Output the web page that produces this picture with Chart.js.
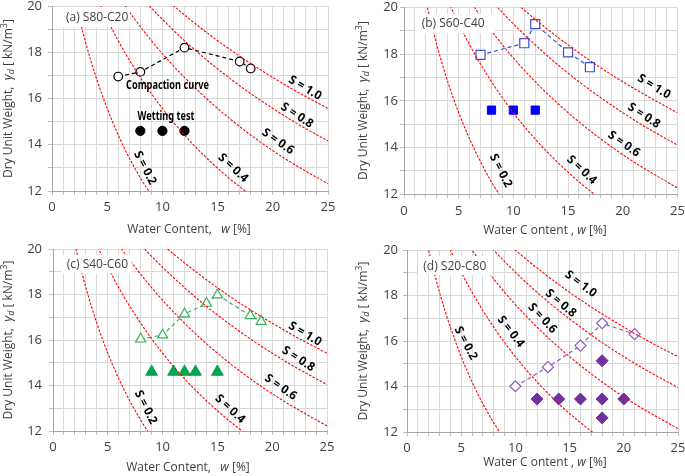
<!DOCTYPE html>
<html>
<head>
<meta charset="utf-8">
<script src="https://cdn.jsdelivr.net/npm/chart.js@4.4.1/dist/chart.umd.min.js"></script>
<style>
  body { margin: 0; background: #fff; }
  #wrap { position: relative; width: 685px; height: 476px; overflow: hidden; }
  canvas { position: absolute; }
</style>
</head>
<body>
<div id="wrap">
  <canvas id="pa" width="342" height="240" style="left:0;top:0"></canvas>
  <canvas id="pb" width="343" height="240" style="left:342px;top:0"></canvas>
  <canvas id="pc" width="342" height="236" style="left:0;top:240px"></canvas>
  <canvas id="pd" width="343" height="236" style="left:342px;top:240px"></canvas>
</div>
<script>
// saturation lines S = 0.2 ... 1.0 (water content w [%])
const satLevels = ['S = 0.2', 'S = 0.4', 'S = 0.6', 'S = 0.8', 'S = 1.0'];
const satW = [
  [1.6, 2, 3, 4, 5, 6, 7, 8, 9],
  [3.2, 4, 6, 8, 10, 12, 14, 16, 18],
  [4.8, 6, 9, 12, 15, 18, 21, 25],
  [6.4, 8, 10, 12, 14, 16, 18, 20, 22, 25],
  [8, 10, 12.5, 15, 17.5, 20, 22.5, 25]
];
// dry unit weight on each saturation line, per panel [kN/m3]
const satGa = [
  [21.32, 20.43, 18.50, 16.91, 15.57, 14.42, 13.43, 12.57, 11.82],
  [21.32, 20.43, 18.50, 16.91, 15.57, 14.42, 13.43, 12.57, 11.82],
  [21.32, 20.43, 18.50, 16.91, 15.57, 14.42, 13.43, 12.31],
  [21.32, 20.43, 19.42, 18.50, 17.67, 16.91, 16.21, 15.57, 14.97, 14.16],
  [21.32, 20.43, 19.42, 18.50, 17.67, 16.91, 16.21, 15.57]
];
const satGb = [
  [21.18, 20.30, 18.40, 16.82, 15.49, 14.36, 13.38, 12.52, 11.77],
  [21.18, 20.30, 18.40, 16.82, 15.49, 14.36, 13.38, 12.52, 11.77],
  [21.18, 20.30, 18.40, 16.82, 15.49, 14.36, 13.38, 12.26],
  [21.18, 20.30, 19.30, 18.40, 17.57, 16.82, 16.13, 15.49, 14.90, 14.10],
  [21.18, 20.30, 19.30, 18.40, 17.57, 16.82, 16.13, 15.49]
];
const satGc = [
  [21.05, 20.18, 18.30, 16.74, 15.42, 14.30, 13.33, 12.48, 11.73],
  [21.05, 20.18, 18.30, 16.74, 15.42, 14.30, 13.33, 12.48, 11.73],
  [21.05, 20.18, 18.30, 16.74, 15.42, 14.30, 13.33, 12.22],
  [21.05, 20.18, 19.20, 18.30, 17.48, 16.74, 16.05, 15.42, 14.84, 14.04],
  [21.05, 20.18, 19.20, 18.30, 17.48, 16.74, 16.05, 15.42]
];
const satGd = [
  [20.84, 19.99, 18.14, 16.61, 15.31, 14.20, 13.24, 12.41, 11.67],
  [20.84, 19.99, 18.14, 16.61, 15.31, 14.20, 13.24, 12.41, 11.67],
  [20.84, 19.99, 18.14, 16.61, 15.31, 14.20, 13.24, 12.15],
  [20.84, 19.99, 19.02, 18.14, 17.34, 16.61, 15.93, 15.31, 14.74, 13.95],
  [20.84, 19.99, 19.02, 18.14, 17.34, 16.61, 15.93, 15.31]
];

// compaction curves and wetting test specimens
const compAW = [6, 8, 12, 17, 18];
const compAG = [16.95, 17.15, 18.2, 17.6, 17.3];
const wetAW = [8, 10, 12];
const wetAG = [14.6, 14.6, 14.6];

const compBW = [7, 11, 12, 15, 17];
const compBG = [17.97, 18.47, 19.29, 18.08, 17.44];
const wetBW = [8, 10, 12];
const wetBG = [15.6, 15.6, 15.6];

const compCW = [8, 10, 12, 14, 15, 18, 19];
const compCG = [16.04, 16.22, 17.14, 17.61, 17.98, 17.07, 16.81];
const wetCW = [9, 11, 12, 13, 15];
const wetCG = [14.6, 14.6, 14.6, 14.6, 14.6];

const compDW = [10, 13, 16, 18, 21];
const compDG = [14.01, 14.85, 15.8, 16.78, 16.3];
const wetDW = [12, 14, 16, 18, 20, 18, 18];
const wetDG = [13.45, 13.45, 13.45, 13.45, 13.45, 15.13, 12.62];

const FONT = "'Open Sans', 'Noto Sans', sans-serif";
const BOLD = "bold 12px 'Noto Sans', 'Open Sans', sans-serif";
const TXT = '#404040';

Chart.defaults.font.family = FONT;

const yTitleParts = [
  { t: 'Dry Unit Weight,  ', f: '12px ' + FONT },
  { t: 'γ', f: 'italic 13px ' + FONT },
  { t: 'd', f: 'italic 9px ' + FONT, dy: 3 },
  { t: ' [ kN/m', f: '12px ' + FONT },
  { t: '3', f: '9px ' + FONT, dy: -4 },
  { t: ']', f: '12px ' + FONT }
];
const xTitleAC = [
  { t: 'Water Content,   ', f: '12px ' + FONT },
  { t: 'w', f: 'italic 12px ' + FONT },
  { t: ' [%]', f: '12px ' + FONT }
];
const xTitleBD = [
  { t: 'Water C ontent , ', f: '12px ' + FONT },
  { t: 'w', f: 'italic 12px ' + FONT },
  { t: ' [%]', f: '12px ' + FONT }
];

function drawRich(ctx, parts, cx, cy, rot) {
  ctx.save();
  ctx.translate(cx, cy);
  ctx.rotate(rot);
  let total = 0;
  parts.forEach(p => {
    ctx.font = p.f;
    p.w = ctx.measureText(p.t).width;
    total += p.w;
  });
  let x = -total / 2;
  ctx.textAlign = 'left';
  ctx.textBaseline = 'middle';
  ctx.fillStyle = TXT;
  parts.forEach(p => {
    ctx.font = p.f;
    ctx.fillText(p.t, x, p.dy || 0);
    x += p.w;
  });
  ctx.restore();
}

// bold label squeezed to a given width (the original uses a narrow face)
function drawNarrow(ctx, text, x, y, deg, width) {
  ctx.save();
  ctx.translate(x, y);
  ctx.rotate(deg * Math.PI / 180);
  ctx.font = BOLD;
  const k = width / ctx.measureText(text).width;
  ctx.scale(k, 1);
  ctx.fillStyle = '#000';
  ctx.textAlign = 'center';
  ctx.textBaseline = 'middle';
  ctx.fillText(text, 0, 0);
  ctx.restore();
}

const panelDecor = {
  id: 'panelDecor',
  afterDatasetsDraw(chart, args, o) {
    const ctx = chart.ctx;
    ctx.save();
    ctx.fillStyle = '#ffffff';
    ctx.fillRect(o.box[0], o.box[1], o.box[2], o.box[3]);
    ctx.fillStyle = TXT;
    ctx.font = '12px ' + FONT;
    ctx.textAlign = 'left';
    ctx.textBaseline = 'middle';
    ctx.fillText(o.tag, o.tagPos[0], o.tagPos[1]);
    ctx.restore();
    o.satPos.forEach((p, i) => drawNarrow(ctx, satLevels[i], p[0], p[1], p[2], 36));
    (o.notes || []).forEach(n => drawNarrow(ctx, n.t, n.x, n.y, 0, n.w));
  },
  afterDraw(chart, args, o) {
    drawRich(chart.ctx, yTitleParts, o.yTitle[0], o.yTitle[1], -Math.PI / 2);
    drawRich(chart.ctx, o.xParts, o.xTitle[0], o.xTitle[1], 0);
  }
};

function makePanel(id, o) {
  const datasets = satLevels.map((lab, i) => ({
    label: lab,
    data: satW[i].map((w, j) => ({ x: w, y: o.sat[i][j] })),
    showLine: true,
    borderColor: '#ff0000',
    borderWidth: 1.1,
    borderDash: [2.5, 1.5],
    pointRadius: 0,
    cubicInterpolationMode: 'monotone'
  }));
  datasets.push({
    label: 'Compaction curve',
    data: o.compW.map((w, j) => ({ x: w, y: o.compG[j] })),
    showLine: true,
    borderColor: o.compColor,
    borderWidth: 1.2,
    borderDash: [4, 3],
    pointStyle: o.compStyle,
    pointRadius: o.compR,
    pointBackgroundColor: '#ffffff',
    pointBorderColor: o.compColor,
    pointBorderWidth: 1.2
  });
  datasets.push({
    label: 'Wetting test',
    data: o.wetW.map((w, j) => ({ x: w, y: o.wetG[j] })),
    showLine: false,
    pointStyle: o.wetStyle,
    pointRadius: o.wetR,
    pointBackgroundColor: o.wetColor,
    pointBorderColor: o.wetColor,
    pointBorderWidth: 1
  });

  new Chart(document.getElementById(id), {
    type: 'scatter',
    data: { datasets },
    plugins: [panelDecor],
    options: {
      responsive: false,
      animation: false,
      events: [],
      layout: { padding: o.pad },
      plugins: {
        legend: { display: false },
        tooltip: { enabled: false },
        panelDecor: o.decor
      },
      scales: {
        x: {
          type: 'linear', min: 0, max: 25,
          ticks: {
            stepSize: 1, autoSkip: false, maxRotation: 0, padding: o.xPad,
            color: TXT, font: { size: 13 },
            callback: v => (v % 5 === 0 ? v : '')
          },
          grid: { color: '#d9d9d9', tickLength: 4, tickColor: '#bfbfbf' },
          border: { color: '#a6a6a6' },
          afterFit: s => { s.height = o.xH; s.paddingLeft = 0; s.paddingRight = 0; }
        },
        y: {
          type: 'linear', min: 12, max: 20,
          ticks: {
            stepSize: 1, autoSkip: false, padding: o.yPad,
            color: TXT, font: { size: 13 },
            callback: v => (v % 2 === 0 ? v : '')
          },
          grid: { color: '#d9d9d9', tickLength: 4, tickColor: '#bfbfbf' },
          border: { color: '#a6a6a6' },
          afterFit: s => { s.width = o.yW; s.paddingTop = 0; s.paddingBottom = 0; }
        }
      }
    }
  });
}

makePanel('pa', {
  sat: satGa, compW: compAW, compG: compAG, wetW: wetAW, wetG: wetAG,
  compColor: '#000000', compStyle: 'circle', compR: 4.3,
  wetColor: '#000000', wetStyle: 'circle', wetR: 4.6,
  pad: { left: 0, top: 6, right: 14, bottom: 0 }, yW: 52, xH: 49, yPad: 6, xPad: 4,
  decor: {
    tag: '(a) S80-C20', box: [57, 7, 73, 20], tagPos: [66, 17.5],
    satPos: [[145, 168, 63], [233, 168, 43], [278, 141.5, 35], [297, 115.5, 33], [305, 88, 31]],
    notes: [{ t: 'Compaction curve', x: 167.5, y: 86, w: 83 }, { t: 'Wetting test', x: 166, y: 117, w: 57 }],
    yTitle: [8.5, 98.5], xTitle: [189, 230], xParts: xTitleAC
  }
});

makePanel('pb', {
  sat: satGb, compW: compBW, compG: compBG, wetW: wetBW, wetG: wetBG,
  compColor: '#3a50d8', compStyle: 'rect', compR: 6.4,
  wetColor: '#0000ff', wetStyle: 'rect', wetR: 5.8,
  pad: { left: 0, top: 7, right: 7, bottom: 0 }, yW: 62, xH: 46, yPad: 2, xPad: 5,
  decor: {
    tag: '(b) S60-C40', box: [73, 14, 80, 19], tagPos: [79.7, 23.3],
    satPos: [[158.7, 170.7, 63], [239.7, 170, 43], [282, 144, 35], [302, 115.7, 33], [312, 86.7, 31]],
    yTitle: [21.3, 100.5], xTitle: [203, 231], xParts: xTitleBD
  }
});

makePanel('pc', {
  sat: satGc, compW: compCW, compG: compCG, wetW: wetCW, wetG: wetCG,
  compColor: '#33b35a', compStyle: 'triangle', compR: 5.8,
  wetColor: '#00a54f', wetStyle: 'triangle', wetR: 6.8,
  pad: { left: 0, top: 9, right: 15, bottom: 0 }, yW: 53, xH: 45, yPad: 7, xPad: 4,
  decor: {
    tag: '(c) S40-C60', box: [61.7, 15, 70, 18.3], tagPos: [66.7, 24.3],
    satPos: [[145.7, 167.3, 63], [230, 169, 43], [280.7, 147.3, 35], [298.3, 119, 33], [305, 94, 31]],
    yTitle: [8.3, 100], xTitle: [188, 228], xParts: xTitleAC
  }
});

makePanel('pd', {
  sat: satGd, compW: compDW, compG: compDG, wetW: wetDW, wetG: wetDG,
  compColor: '#8a5cc6', compStyle: 'rectRot', compR: 5.5,
  wetColor: '#7030a0', wetStyle: 'rectRot', wetR: 6,
  pad: { left: 0, top: 10, right: 2, bottom: 0 }, yW: 65, xH: 44, yPad: 5, xPad: 4,
  decor: {
    tag: '(d) S20-C80', box: [76, 16, 74, 19], tagPos: [81.3, 26.3],
    satPos: [[123.7, 103.3, 62], [168.7, 91.7, 52], [200.3, 78.3, 47], [218.7, 63.3, 40], [238.7, 44, 37]],
    yTitle: [21.3, 101], xTitle: [203, 222.5], xParts: xTitleBD
  }
});
</script>
</body>
</html>
